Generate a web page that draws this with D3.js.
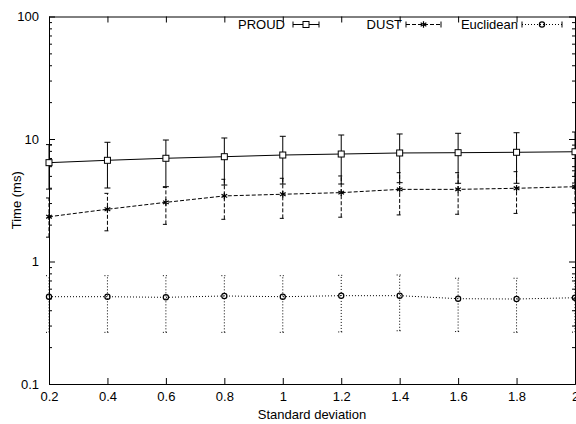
<!DOCTYPE html>
<html>
<head>
<meta charset="utf-8">
<script src="https://cdn.jsdelivr.net/npm/d3@7"></script>
<style>
  body { margin: 0; background: #fff; }
  text { font-family: "Liberation Sans", Arial, sans-serif; font-size: 13px; fill: #000; }
  .os path, .os line { stroke: #000; stroke-width: 1; }
</style>
</head>
<body>
<div id="okvir"></div>
<script>
// podaci procitani sa slike
const stdDev = [0.2, 0.4, 0.6, 0.8, 1.0, 1.2, 1.4, 1.6, 1.8, 2.0]

const proud    = [6.41, 6.70, 6.96, 7.17, 7.40, 7.54, 7.69, 7.73, 7.79, 7.87]
const proudLo  = [3.90, 3.98, 4.08, 4.21, 4.29, 4.29, 4.40, 4.35, 4.35, 4.37]
const proudHi  = [9.00, 9.40, 9.81, 10.19, 10.52, 10.78, 10.99, 11.13, 11.25, 11.4]

const dust     = [2.32, 2.67, 3.04, 3.43, 3.54, 3.65, 3.88, 3.88, 3.96, 4.08]
const dustLo   = [1.58, 1.78, 2.01, 2.21, 2.25, 2.30, 2.40, 2.43, 2.47, 2.50]
const dustHi   = [3.30, 3.60, 4.03, 4.69, 4.78, 4.99, 5.31, 5.31, 5.41, 5.50]

const eucl     = [0.516, 0.516, 0.510, 0.523, 0.516, 0.526, 0.526, 0.497, 0.494, 0.506]
const euclLo   = [0.264, 0.264, 0.264, 0.264, 0.264, 0.266, 0.272, 0.268, 0.264, 0.265]
const euclHi   = [0.766, 0.766, 0.766, 0.766, 0.766, 0.771, 0.776, 0.730, 0.730, 0.740]

const yTicks = [0.1, 1, 10, 100]
const xTicks = [0.2, 0.4, 0.6, 0.8, 1, 1.2, 1.4, 1.6, 1.8, 2]

const serije = [
  { ime: "PROUD", v: proud, lo: proudLo, hi: proudHi, crta: null, znak: "kvadrat" },
  { ime: "DUST", v: dust, lo: dustLo, hi: dustHi, crta: "4,2", znak: "zvijezda" },
  { ime: "Euclidean", v: eucl, lo: euclLo, hi: euclHi, crta: "1,2", znak: "krug" },
]

// dimenzije
const dimenzije = { sirina: 576, visina: 424, lijevo: 49, desno: 575, gore: 16.5, dolje: 384 }

const okvir = d3.select("#okvir").append("svg")
    .attr("width", dimenzije.sirina)
    .attr("height", dimenzije.visina)

const xSkala = d3.scaleLinear().domain([0.2, 2]).range([dimenzije.lijevo, dimenzije.desno])
const ySkala = d3.scaleLog().domain([0.1, 100]).range([dimenzije.dolje, dimenzije.gore])

const minorTicks = []
yTicks.slice(0, -1).forEach(t => { for (let k = 2; k <= 9; k++) minorTicks.push(t * k) })

const fmt = d3.format("~g")

// osi
okvir.append("g").attr("class", "os")
    .attr("transform", `translate(${dimenzije.lijevo},0)`)
    .call(d3.axisLeft(ySkala).tickValues(yTicks).tickFormat(fmt).tickSizeInner(-6).tickSizeOuter(0).tickPadding(10))
okvir.append("g").attr("class", "os")
    .attr("transform", `translate(${dimenzije.lijevo},0)`)
    .call(d3.axisLeft(ySkala).tickValues(minorTicks).tickFormat("").tickSizeInner(-3).tickSizeOuter(0))
okvir.append("g").attr("class", "os")
    .attr("transform", `translate(${dimenzije.desno},0)`)
    .call(d3.axisRight(ySkala).tickValues(yTicks).tickFormat("").tickSizeInner(-6).tickSizeOuter(0))
okvir.append("g").attr("class", "os")
    .attr("transform", `translate(${dimenzije.desno},0)`)
    .call(d3.axisRight(ySkala).tickValues(minorTicks).tickFormat("").tickSizeInner(-3).tickSizeOuter(0))
okvir.append("g").attr("class", "os")
    .attr("transform", `translate(0,${dimenzije.dolje})`)
    .call(d3.axisBottom(xSkala).tickValues(xTicks).tickFormat(fmt).tickSizeInner(-6).tickSizeOuter(0).tickPadding(8))
okvir.append("g").attr("class", "os")
    .attr("transform", `translate(0,${dimenzije.gore})`)
    .call(d3.axisTop(xSkala).tickValues(xTicks).tickFormat("").tickSizeInner(-6).tickSizeOuter(0))

okvir.selectAll(".os text").style("font-size", "13px").attr("fill", "#000")

// oznake osi
okvir.append("text")
    .attr("x", (dimenzije.lijevo + dimenzije.desno) / 2)
    .attr("y", 419)
    .attr("text-anchor", "middle")
    .text("Standard deviation")
okvir.append("text")
    .attr("transform", `translate(21,${(dimenzije.gore + dimenzije.dolje) / 2}) rotate(-90)`)
    .attr("text-anchor", "middle")
    .text("Time (ms)")

// znakovi
function crtajZnak(g, tip, x, y) {
  if (tip === "kvadrat") {
    g.append("rect").attr("x", x - 3).attr("y", y - 3).attr("width", 6).attr("height", 6)
      .attr("fill", "#fff").attr("stroke", "#000").attr("stroke-width", 1)
  } else if (tip === "zvijezda") {
    g.append("path").attr("transform", `translate(${x},${y})`)
      .attr("d", d3.symbol(d3.symbolAsterisk, 30)())
      .attr("fill", "none").attr("stroke", "#000").attr("stroke-width", 1.2)
  } else {
    g.append("circle").attr("cx", x).attr("cy", y).attr("r", 2.6)
      .attr("fill", "none").attr("stroke", "#000").attr("stroke-width", 1.2)
  }
}

const linija = d3.line()
const cap = 3

serije.forEach(s => {
  const g = okvir.append("g")
  const tocke = stdDev.map((x, i) => [xSkala(x), ySkala(s.v[i])])

  // error barovi
  stdDev.forEach((x, i) => {
    const px = xSkala(x), y0 = ySkala(s.lo[i]), y1 = ySkala(s.hi[i])
    const eb = g.append("g").attr("stroke", "#000").attr("stroke-width", 1)
      .attr("stroke-dasharray", s.crta)
    eb.append("line").attr("x1", px).attr("x2", px).attr("y1", y0).attr("y2", y1)
    eb.append("line").attr("x1", px - cap).attr("x2", px + cap).attr("y1", y0).attr("y2", y0).attr("stroke-dasharray", null)
    eb.append("line").attr("x1", px - cap).attr("x2", px + cap).attr("y1", y1).attr("y2", y1).attr("stroke-dasharray", null)
  })

  g.append("path").attr("d", linija(tocke))
    .attr("fill", "none").attr("stroke", "#000").attr("stroke-width", 1)
    .attr("stroke-dasharray", s.crta)

  tocke.forEach(p => crtajZnak(g, s.znak, p[0], p[1]))
})

// legenda
const legenda = [
  { tekstX: 285, x0: 293, x1: 319 },
  { tekstX: 402, x0: 406, x1: 441 },
  { tekstX: 518, x0: 522, x1: 562 },
]
const legY = 24.5
serije.forEach((s, i) => {
  const l = legenda[i]
  okvir.append("text").attr("x", l.tekstX).attr("y", legY + 4.5)
    .attr("text-anchor", "end").text(s.ime)
  const g = okvir.append("g").attr("stroke", "#000").attr("stroke-width", 1)
  g.append("line").attr("x1", l.x0).attr("x2", l.x1).attr("y1", legY).attr("y2", legY)
    .attr("stroke-dasharray", s.crta)
  g.append("line").attr("x1", l.x0).attr("x2", l.x0).attr("y1", legY - 3).attr("y2", legY + 3)
  g.append("line").attr("x1", l.x1).attr("x2", l.x1).attr("y1", legY - 3).attr("y2", legY + 3)
  crtajZnak(okvir, s.znak, (l.x0 + l.x1) / 2, legY)
})
</script>
</body>
</html>
